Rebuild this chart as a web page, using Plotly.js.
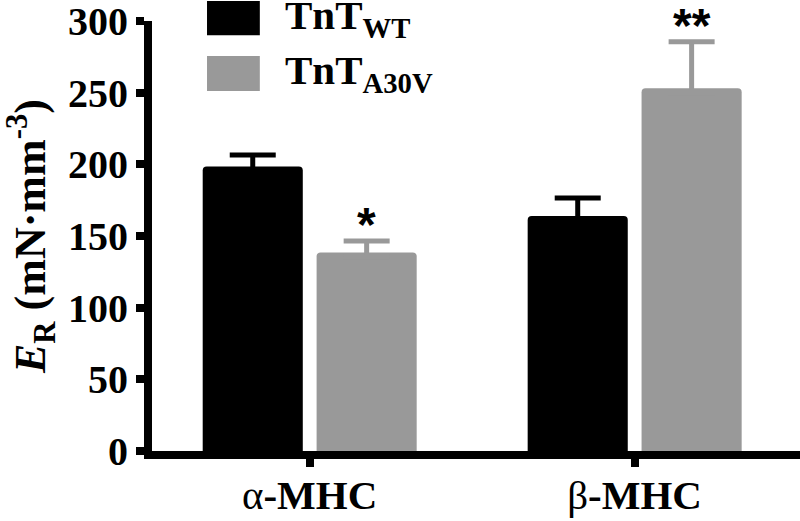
<!DOCTYPE html>
<html>
<head>
<meta charset="utf-8">
<script src="https://cdn.plot.ly/plotly-3.0.1.min.js"></script>
<style>html,body{margin:0;padding:0;background:#fff;}#chart{width:800px;height:521px;}</style>
</head>
<body>
<div id="chart"></div>
<script>
// ---- data ----
const categories = ['α-MHC', 'β-MHC'];
const tickLabels = ['α<b>-MHC</b>', 'β<b>-MHC</b>'];
const seriesNames = ['TnT<sub>WT</sub>', 'TnT<sub>A30V</sub>'];
const wtValues = [198.5, 164];
const wtErrors = [8, 12.5];
const a30vValues = [138.5, 253];
const a30vErrors = [8, 32.5];
const significance = ['*', '**'];
const yTicks = [0, 50, 100, 150, 200, 250, 300];

// ---- style ----
const BLACK = '#000000';
const GREY = '#999999';
const serif = 'Liberation Serif, Times New Roman, serif';
const BAR_W = 0.308;
const WT_OFF = -0.329;
const MUT_OFF = 0.0215;
const HIDDEN_LOWER = 3; // lower whisker kept inside the bar so only the upper one shows

const traces = [
  {
    type: 'bar', name: seriesNames[0], x: categories, y: wtValues,
    width: BAR_W, offset: WT_OFF,
    marker: {color: BLACK, cornerradius: 4, line: {width: 0}},
    error_y: {type: 'data', symmetric: false, array: wtErrors, arrayminus: wtErrors.map(() => HIDDEN_LOWER),
              color: BLACK, thickness: 5, width: 23},
    showlegend: false, hoverinfo: 'none'
  },
  {
    type: 'bar', name: seriesNames[1], x: categories, y: a30vValues,
    width: BAR_W, offset: MUT_OFF,
    marker: {color: GREY, cornerradius: 4, line: {width: 0}},
    error_y: {type: 'data', symmetric: false, array: a30vErrors, arrayminus: a30vErrors.map(() => HIDDEN_LOWER),
              color: GREY, thickness: 5, width: 23},
    showlegend: false, hoverinfo: 'none'
  }
];

const annotations = [];
significance.forEach((s, i) => {
  annotations.push({
    x: i + MUT_OFF + BAR_W / 2, y: a30vValues[i] + a30vErrors[i],
    xref: 'x', yref: 'y', text: '<b>' + s + '</b>', showarrow: false,
    xanchor: 'center', yanchor: 'bottom', yshift: -12,
    font: {family: 'Liberation Sans, Arial, sans-serif', size: 48, color: BLACK}
  });
});
// legend labels
const legendColors = [BLACK, GREY];
const legendY = [1.007, 0.878];
seriesNames.forEach((n, i) => {
  annotations.push({
    xref: 'paper', yref: 'paper', x: 0.2022, y: legendY[i], xanchor: 'left', yanchor: 'middle',
    text: '<b>' + n + '</b>', showarrow: false,
    font: {family: serif, size: 41, color: BLACK}
  });
});

const shapes = [
  {type: 'rect', xref: 'paper', yref: 'paper', x0: 0.0849, x1: 0.1664, y0: 0.967, y1: 1.0465,
   fillcolor: legendColors[0], line: {width: 0}, layer: 'above'},
  {type: 'rect', xref: 'paper', yref: 'paper', x0: 0.0849, x1: 0.1664, y0: 0.837, y1: 0.9186,
   fillcolor: legendColors[1], line: {width: 0}, layer: 'above'}
];

const layout = {
  width: 800, height: 521,
  margin: {l: 152, r: 0, t: 21, b: 70},
  paper_bgcolor: '#ffffff', plot_bgcolor: '#ffffff',
  showlegend: false,
  xaxis: {
    type: 'category', range: [-0.485, 1.509],
    tickvals: categories, ticktext: tickLabels,
    showline: true, linewidth: 8, linecolor: BLACK,
    ticks: 'outside', ticklen: 8, tickwidth: 8, tickcolor: BLACK,
    showgrid: false, zeroline: false, ticklabelstandoff: -7,
    tickfont: {family: serif, size: 41, color: BLACK}
  },
  yaxis: {
    range: [0, 300], tickvals: yTicks, ticktext: yTicks.map(String),
    showline: true, linewidth: 8, linecolor: BLACK,
    ticks: 'outside', ticklen: 8, tickwidth: 8, tickcolor: BLACK,
    showgrid: false, zeroline: false, ticklabeloverflow: 'allow',
    tickfont: {family: serif, size: 40, color: BLACK, weight: 'bold'},
    title: {text: '<b><i>E</i><sub>R</sub> (mN·mm<sup>-3</sup>)</b>', font: {family: serif, size: 44, color: BLACK}, standoff: 12}
  },
  annotations: annotations,
  shapes: shapes
};

Plotly.newPlot('chart', traces, layout, {displayModeBar: false, staticPlot: true});
</script>
</body>
</html>
